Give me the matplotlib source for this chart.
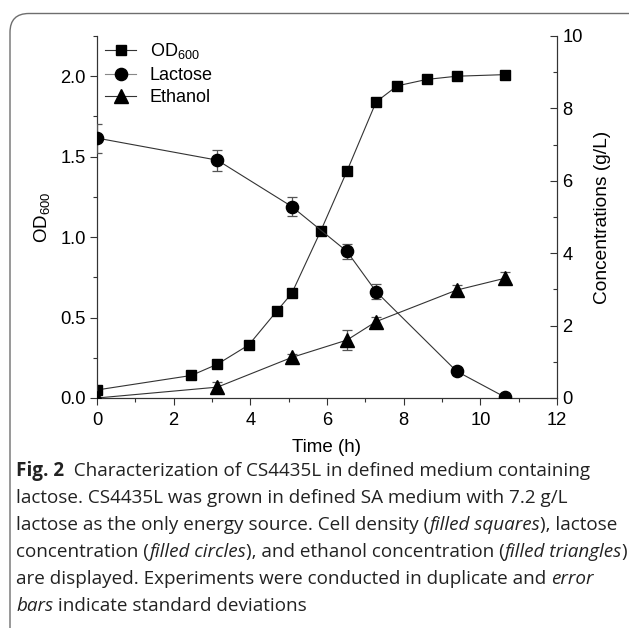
import matplotlib
matplotlib.use("Agg")
import matplotlib.pyplot as plt
from matplotlib.patches import FancyBboxPatch
from matplotlib.ticker import MultipleLocator, FormatStrFormatter
from matplotlib.lines import Line2D

# ---------------- data ----------------
time_od = [0.0, 2.46, 3.14, 3.96, 4.69, 5.08, 5.84, 6.52, 7.28, 7.83, 8.60, 9.38, 10.65]
od600 = [0.05, 0.14, 0.21, 0.33, 0.54, 0.65, 1.04, 1.41, 1.84, 1.94, 1.98, 2.00, 2.01]

time_conc = [0.0, 3.14, 5.08, 6.52, 7.28, 9.38, 10.65]
lactose = [7.18, 6.57, 5.29, 4.05, 2.94, 0.74, 0.02]
lactose_err = [0.40, 0.29, 0.27, 0.21, 0.20, 0.10, 0.03]
ethanol = [0.0, 0.30, 1.12, 1.60, 2.11, 2.98, 3.31]
ethanol_err = [0.03, 0.15, 0.10, 0.28, 0.12, 0.15, 0.16]

series_labels = ["OD$_{600}$", "Lactose", "Ethanol"]
x_label = "Time (h)"
y_label_left = "OD$_{600}$"
y_label_right = "Concentrations (g/L)"

caption_lines = [
    [("Fig. 2", "bold"), ("  Characterization of CS4435L in defined medium containing", "normal")],
    [("lactose. CS4435L was grown in defined SA medium with 7.2 g/L", "normal")],
    [("lactose as the only energy source. Cell density (", "normal"), ("filled squares", "italic"), ("), lactose", "normal")],
    [("concentration (", "normal"), ("filled circles", "italic"), ("), and ethanol concentration (", "normal"),
     ("filled triangles", "italic"), (")", "normal")],
    [("are displayed. Experiments were conducted in duplicate and ", "normal"), ("error", "italic")],
    [("bars", "italic"), (" indicate standard deviations", "normal")],
]

# ---------------- style ----------------
plt.rcParams["font.family"] = ["Liberation Sans", "DejaVu Sans"]
plt.rcParams["mathtext.fontset"] = "custom"
plt.rcParams["mathtext.rm"] = "Liberation Sans"
plt.rcParams["mathtext.it"] = "Liberation Sans:italic"

W, H = 629, 628
fig = plt.figure(figsize=(W / 100, H / 100), dpi=100)

# rounded frame (top-left corner visible, rest runs off the image)
box = FancyBboxPatch((10 / W, -0.2), (W + 30) / W, 1.2 - 13.5 / H,
                     boxstyle="round,pad=0,rounding_size=0.03",
                     transform=fig.transFigure, fill=False, edgecolor="#6e6e6e",
                     linewidth=1.0, clip_on=False)
fig.patches.append(box)

ax = fig.add_axes([97 / W, 1 - 398 / H, (557 - 97) / W, (398 - 36) / H])
ax2 = ax.twinx()

line_col = "#333333"
err_col = "#555555"

ax.plot(time_od, od600, color=line_col, lw=0.8, marker="s", ms=7.2,
        mfc="black", mec="black", zorder=3)

ax2.errorbar(time_conc, lactose, yerr=lactose_err, color=line_col, lw=0.8,
             marker="o", ms=8.8, mfc="black", mec="black", ecolor=err_col,
             elinewidth=0.9, capsize=3.4, capthick=0.9, zorder=3)
ax2.errorbar(time_conc, ethanol, yerr=ethanol_err, color=line_col, lw=0.8,
             marker="^", ms=9.5, mfc="black", mec="black", ecolor=err_col,
             elinewidth=0.9, capsize=3.4, capthick=0.9, zorder=3)

ax.set_xlim(0, 12)
ax.set_ylim(0, 2.25)
ax2.set_ylim(0, 10)

for a in (ax, ax2):
    a.spines["top"].set_visible(False)
    for s in a.spines.values():
        s.set_color("#333333")
        s.set_linewidth(0.8)

ax.xaxis.set_major_locator(MultipleLocator(2))
ax.xaxis.set_minor_locator(MultipleLocator(1))
ax.yaxis.set_major_locator(MultipleLocator(0.5))
ax.yaxis.set_minor_locator(MultipleLocator(0.25))
ax2.yaxis.set_major_locator(MultipleLocator(2))
ax2.yaxis.set_minor_locator(MultipleLocator(1))
ax.yaxis.set_major_formatter(FormatStrFormatter("%.1f"))

tick_fs = 13.2
ax.tick_params(axis="both", which="major", direction="out", length=5, width=0.8,
               color="#333333", labelsize=tick_fs, pad=3)
ax.tick_params(axis="x", which="major", pad=5)
ax.tick_params(axis="both", which="minor", direction="out", length=3, width=0.8, color="#333333")
ax2.tick_params(axis="y", which="major", direction="in", length=5, width=0.8,
                color="#333333", labelsize=tick_fs, pad=4)
ax2.tick_params(axis="y", which="minor", direction="in", length=3, width=0.8, color="#333333")

ax.set_xlabel(x_label, fontsize=13.5, labelpad=7)
ax.set_ylabel(y_label_left, fontsize=13.5, labelpad=6)
ax2.set_ylabel(y_label_right, fontsize=13.8, labelpad=8)

handles = [
    Line2D([], [], color=line_col, lw=0.8, marker="s", ms=7.2, mfc="black", mec="black"),
    Line2D([], [], color="#888888", lw=0.8, marker="o", ms=8.8, mfc="black", mec="black"),
    Line2D([], [], color=line_col, lw=0.8, marker="^", ms=9.5, mfc="black", mec="black"),
]
ax2.legend(handles, series_labels, loc="upper left", frameon=False, fontsize=13,
           handlelength=1.75, handletextpad=0.75, labelspacing=0.3, borderpad=0.0,
           borderaxespad=0.0, bbox_to_anchor=(0.017, 0.985), numpoints=1)

# ---------------- caption ----------------
cap_family = ["Open Sans", "DejaVu Sans"]
cap_fs = 13.6
renderer = fig.canvas.get_renderer()
baselines = [476, 503, 530, 557, 584, 611]
for segs, yb in zip(caption_lines, baselines):
    x = 16.0
    for txt, sty in segs:
        t = fig.text(x / W, 1 - yb / H, txt, fontsize=cap_fs, family=cap_family,
                     fontweight="bold" if sty == "bold" else "normal",
                     fontstyle="italic" if sty == "italic" else "normal",
                     color="#222222", ha="left", va="baseline")
        bb = t.get_window_extent(renderer=renderer)
        x += bb.width

fig.savefig("out.png", dpi=100)
